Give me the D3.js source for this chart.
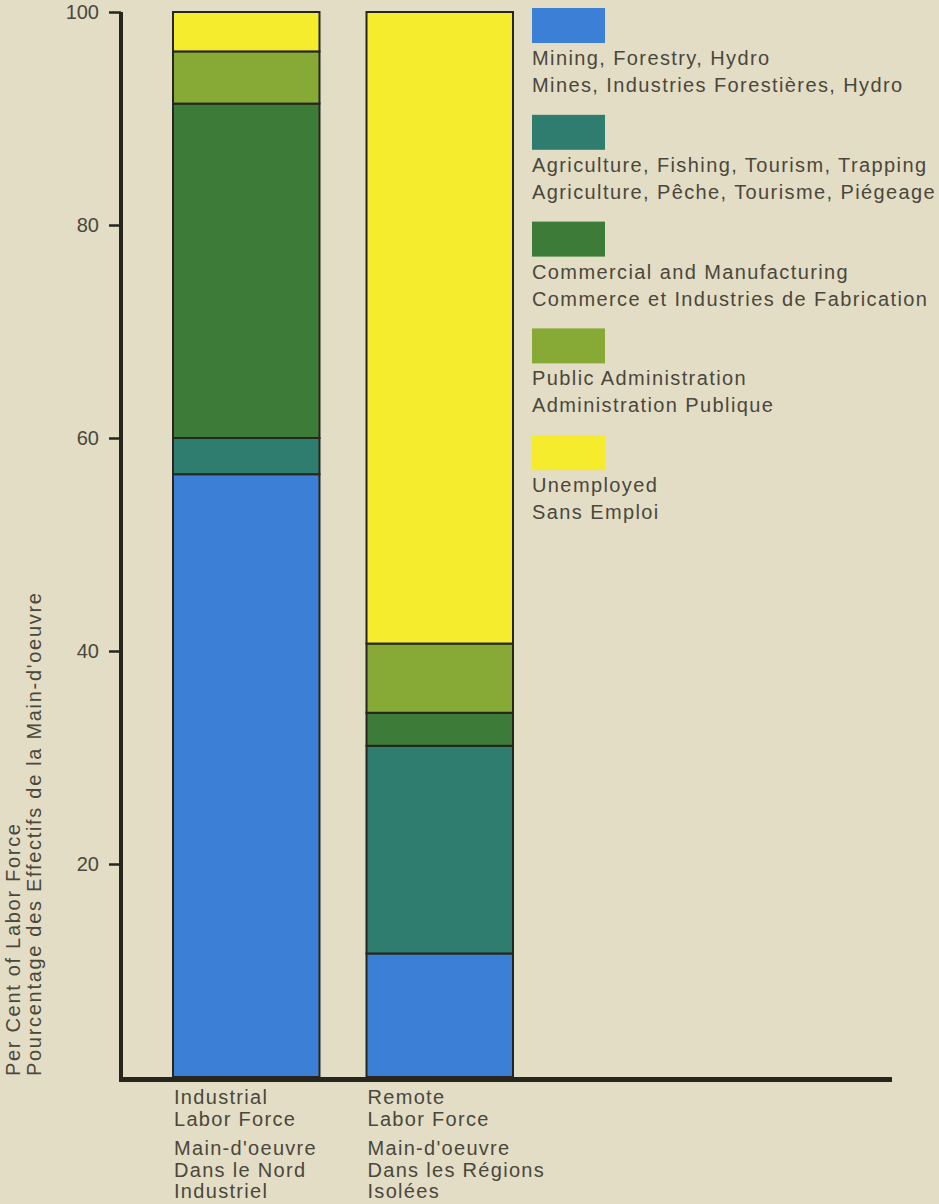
<!DOCTYPE html>
<html>
<head>
<meta charset="utf-8">
<script src="https://cdn.jsdelivr.net/npm/d3@7"></script>
<style>
  html, body { margin: 0; padding: 0; background: #e4ddc5; }
  svg { display: block; }
  text { font-family: "Liberation Sans", Arial, sans-serif; fill: #4a473c; }
</style>
</head>
<body>
<svg id="chart" width="939" height="1204"></svg>
<script>
// Labor force composition, per cent (stacked from bottom)
const groups = ["Industrial", "Remote"];
const groupLabelsEn = [["Industrial", "Labor Force"], ["Remote", "Labor Force"]];
const groupLabelsFr = [["Main-d'oeuvre", "Dans le Nord", "Industriel"], ["Main-d'oeuvre", "Dans les Régions", "Isolées"]];

const sectors = ["mining", "agriculture", "commercial", "publicAdmin", "unemployed"];
const sectorLabelsEn = ["Mining, Forestry, Hydro", "Agriculture, Fishing, Tourism, Trapping", "Commercial and Manufacturing", "Public Administration", "Unemployed"];
const sectorLabelsFr = ["Mines, Industries Forestières, Hydro", "Agriculture, Pêche, Tourisme, Piégeage", "Commerce et Industries de Fabrication", "Administration Publique", "Sans Emploi"];
const sectorColors = ["#3b80d6", "#2f7d6f", "#3c7c38", "#86aa35", "#f4ec2c"];

const industrialValues = [56.6, 3.4, 31.4, 4.9, 3.7];
const remoteValues = [11.6, 19.5, 3.1, 6.5, 59.3];

const yTicks = [20, 40, 60, 80, 100];

const svg = d3.select("#chart");

const y = d3.scaleLinear().domain([0, 100]).range([1077, 12]);
const x = d3.scaleBand().domain(groups).range([173, 513]).paddingInner(0.243).paddingOuter(0);

const rows = groups.map((g, i) => {
  const vals = i === 0 ? industrialValues : remoteValues;
  const row = { group: g };
  sectors.forEach((s, j) => row[s] = vals[j]);
  return row;
});
const series = d3.stack().keys(sectors)(rows);

// Stacked bars
svg.append("g")
  .selectAll("g")
  .data(series)
  .join("g")
  .attr("fill", (d, i) => sectorColors[i])
  .selectAll("rect")
  .data(d => d)
  .join("rect")
  .attr("x", d => x(d.data.group))
  .attr("width", x.bandwidth())
  .attr("y", d => y(d[1]))
  .attr("height", d => y(d[0]) - y(d[1]))
  .attr("stroke", "#26261e")
  .attr("stroke-width", 2);

// Y axis
const yAxis = svg.append("g")
  .attr("transform", "translate(121,0)")
  .call(d3.axisLeft(y).tickValues(yTicks).tickSize(12).tickSizeOuter(0).tickPadding(10));
yAxis.select(".domain").attr("stroke", "#26261e").attr("stroke-width", 4)
  .attr("d", `M0,${y(100)}V${y(0) + 4}`);
yAxis.selectAll(".tick line").attr("stroke", "#26261e").attr("stroke-width", 2.5);
yAxis.selectAll(".tick text")
  .attr("font-size", 20)
  .attr("font-family", "Liberation Sans, Arial, sans-serif")
  .attr("fill", "#4a473c");

// X axis baseline
svg.append("line")
  .attr("x1", 119).attr("x2", 892)
  .attr("y1", y(0) + 2.5).attr("y2", y(0) + 2.5)
  .attr("stroke", "#26261e").attr("stroke-width", 5);

// Y axis title (two lines, rotated)
const yTitle = svg.append("g").attr("transform", "translate(0,1076) rotate(-90)")
  .attr("font-size", 20).attr("letter-spacing", 1.7);
yTitle.append("text").attr("x", 0).attr("y", 20).text("Per Cent of Labor Force");
yTitle.append("text").attr("x", 0).attr("y", 41).text("Pourcentage des Effectifs de la Main-d'oeuvre");

// Category labels under the bars
groups.forEach((g, i) => {
  const gx = x(g) + 1;
  const lab = svg.append("g").attr("font-size", 20).attr("letter-spacing", 1.3);
  groupLabelsEn[i].forEach((t, k) => {
    lab.append("text").attr("x", gx).attr("y", 1104 + k * 22).text(t);
  });
  groupLabelsFr[i].forEach((t, k) => {
    lab.append("text").attr("x", gx).attr("y", 1155 + k * 21.5).text(t);
  });
});

// Legend
const legend = svg.append("g").attr("transform", "translate(532,8)")
  .attr("font-size", 20).attr("letter-spacing", 1.4);
const item = legend.selectAll("g")
  .data(sectors)
  .join("g")
  .attr("transform", (d, i) => `translate(0,${i * 106.8})`);
item.append("rect")
  .attr("width", 73).attr("height", 35)
  .attr("fill", (d, i) => sectorColors[i]);
item.append("text").attr("x", 0).attr("y", 57).text((d, i) => sectorLabelsEn[i]);
item.append("text").attr("x", 0).attr("y", 84).text((d, i) => sectorLabelsFr[i]);
</script>
</body>
</html>
